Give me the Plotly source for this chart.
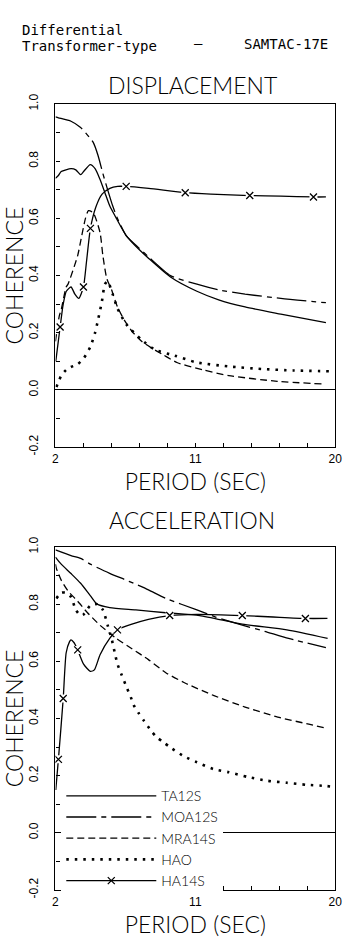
import plotly.graph_objects as go

W, H = 350, 946

# ---------------- DATA ----------------
x_tick_values = [2.0, 3.8, 5.6, 7.4, 9.2, 11.0, 12.8, 14.6, 16.4, 18.2, 20.0]
x_tick_labels = ["2", "", "", "", "", "11", "", "", "", "", "20"]
y_tick_values = [-0.2, -0.1, 0.0, 0.1, 0.2, 0.3, 0.4, 0.5, 0.6, 0.7, 0.8, 0.9, 1.0]
y_tick_labels = ["-0.2", "", "0.0", "", "0.2", "", "0.4", "", "0.6", "", "0.8", "", "1.0"]

series_names = ["TA12S", "MOA12S", "MRA14S", "HAO", "HA14S"]

# DISPLACEMENT
disp_ta12s_period = [2.0, 2.19, 2.37, 3.0, 3.31, 3.62, 3.81, 4.24, 4.55, 4.87, 5.18, 5.49, 5.92, 6.55, 7.4, 8.0, 9.4, 11.1, 12.5, 14.2, 16.5, 19.4]
disp_ta12s_coh = [0.74, 0.75, 0.764, 0.774, 0.77, 0.753, 0.764, 0.788, 0.774, 0.736, 0.69, 0.644, 0.60, 0.54, 0.49, 0.46, 0.395, 0.345, 0.315, 0.29, 0.265, 0.235]

disp_moa12s_period = [2.0, 2.19, 3.0, 3.62, 4.24, 4.43, 4.74, 5.05, 5.36, 5.68, 5.99, 6.55, 7.4, 8.0, 9.4, 11.1, 12.5, 14.2, 16.5, 19.4]
disp_moa12s_coh = [0.955, 0.952, 0.94, 0.918, 0.88, 0.866, 0.82, 0.757, 0.70, 0.644, 0.60, 0.54, 0.495, 0.465, 0.40, 0.37, 0.35, 0.335, 0.32, 0.305]

disp_mra14s_period = [2.0, 2.25, 2.37, 2.69, 2.81, 3.43, 3.62, 3.93, 4.12, 4.43, 4.87, 5.05, 5.30, 5.61, 5.99, 6.42, 6.92, 7.54, 8.17, 8.92, 9.85, 11.5, 13.15, 16.27, 19.38]
disp_mra14s_coh = [0.17, 0.26, 0.28, 0.36, 0.37, 0.47, 0.52, 0.60, 0.627, 0.62, 0.55, 0.47, 0.39, 0.35, 0.29, 0.245, 0.205, 0.17, 0.147, 0.123, 0.095, 0.07, 0.05, 0.03, 0.02]

disp_hao_period = [2.06, 2.19, 2.37, 2.69, 3.0, 3.43, 3.81, 4.24, 4.55, 4.74, 4.99, 5.18, 5.36, 5.68, 5.99, 6.55, 7.54, 8.42, 9.66, 11.1, 13.15, 15.27, 17.3, 19.7]
disp_hao_coh = [0.01, 0.027, 0.05, 0.07, 0.08, 0.09, 0.11, 0.15, 0.2, 0.245, 0.31, 0.37, 0.38, 0.335, 0.285, 0.23, 0.175, 0.14, 0.12, 0.096, 0.082, 0.073, 0.068, 0.065]

disp_ha14s_period = [2.02, 2.3, 2.5, 2.7, 3.0, 3.25, 3.5, 3.8, 4.0, 4.25, 4.6, 5.0, 5.5, 6.0, 6.55, 8.0, 10.35, 12.0, 14.5, 16.5, 18.6, 19.4]
disp_ha14s_coh = [0.10, 0.22, 0.30, 0.345, 0.36, 0.335, 0.32, 0.36, 0.45, 0.565, 0.64, 0.685, 0.705, 0.712, 0.712, 0.705, 0.69, 0.685, 0.68, 0.678, 0.675, 0.675]
disp_ha14s_mark_period = [2.3, 3.8, 4.25, 6.55, 10.35, 14.5, 18.6]
disp_ha14s_mark_coh = [0.22, 0.36, 0.565, 0.712, 0.69, 0.68, 0.675]

# ACCELERATION
acc_ta12s_period = [2.0, 2.06, 2.37, 3.0, 3.62, 4.24, 4.68, 5.49, 7.17, 9.10, 11.28, 14.02, 16.89, 19.51]
acc_ta12s_coh = [0.965, 0.96, 0.94, 0.907, 0.873, 0.83, 0.80, 0.788, 0.78, 0.77, 0.76, 0.73, 0.71, 0.68]

acc_moa12s_period = [2.0, 3.0, 3.62, 4.24, 5.49, 6.73, 7.98, 9.10, 11.1, 12.3, 13.8, 15.45, 17.0, 19.4]
acc_moa12s_coh = [0.99, 0.97, 0.96, 0.94, 0.908, 0.88, 0.85, 0.82, 0.78, 0.755, 0.73, 0.705, 0.68, 0.648]

acc_mra14s_period = [2.0, 2.06, 2.37, 2.81, 3.43, 4.06, 4.87, 5.92, 6.92, 7.98, 9.10, 10.3, 12.2, 14.2, 16.3, 18.3, 19.4]
acc_mra14s_coh = [0.94, 0.925, 0.884, 0.846, 0.81, 0.77, 0.726, 0.68, 0.644, 0.606, 0.56, 0.525, 0.48, 0.44, 0.405, 0.38, 0.366]

acc_hao_period = [2.06, 2.37, 2.69, 3.0, 3.31, 3.62, 3.81, 4.24, 4.68, 5.05, 5.36, 5.61, 5.80, 5.99, 6.24, 6.61, 6.86, 7.05, 7.36, 7.67, 8.11, 8.48, 8.92, 9.41, 10.29, 11.10, 12.16, 13.15, 14.40, 15.64, 16.89, 18.14, 19.38, 20.0]
acc_hao_coh = [0.82, 0.84, 0.84, 0.825, 0.78, 0.76, 0.764, 0.795, 0.80, 0.78, 0.726, 0.68, 0.634, 0.59, 0.555, 0.505, 0.473, 0.445, 0.418, 0.394, 0.36, 0.336, 0.318, 0.298, 0.267, 0.247, 0.223, 0.212, 0.195, 0.182, 0.175, 0.168, 0.164, 0.16]

acc_ha14s_period = [2.02, 2.19, 2.5, 2.69, 2.9, 3.0, 3.2, 3.43, 3.81, 4.24, 4.5, 4.87, 5.49, 5.99, 6.92, 7.98, 9.35, 11.1, 14.02, 16.0, 18.08, 19.5]
acc_ha14s_coh = [0.15, 0.257, 0.47, 0.63, 0.668, 0.675, 0.665, 0.64, 0.59, 0.565, 0.57, 0.623, 0.68, 0.71, 0.73, 0.747, 0.76, 0.764, 0.76, 0.755, 0.75, 0.75]
acc_ha14s_mark_period = [2.19, 2.5, 3.43, 5.99, 9.35, 14.02, 18.08]
acc_ha14s_mark_coh = [0.257, 0.47, 0.64, 0.71, 0.76, 0.76, 0.75]

# ---------------- STYLE ----------------
LW = 1.3
styles = {
    "TA12S": dict(color="black", width=LW, dash="solid"),
    "MOA12S": dict(color="black", width=LW, dash="30px,5px,5px,5px"),
    "MRA14S": dict(color="black", width=LW, dash="7px,4px"),
    "HAO": dict(color="black", width=2.6, dash="2.5px,6px"),
    "HA14S": dict(color="black", width=LW, dash="solid"),
}
TITLE_FONT = dict(family="Lato", size=23, color="black", weight=300)
TICK_FONT = dict(family="Liberation Sans", size=12, color="black")
HDR_FONT = dict(family="DejaVu Sans Mono", size=14, color="black")
LEG_FONT = dict(family="Lato", size=14, color="black", weight=300)


def px_x(p):
    return p / W


def px_y(p):
    return 1 - p / H


fig = go.Figure()

panels = [
    ("x", "y", [
        ("TA12S", disp_ta12s_period, disp_ta12s_coh),
        ("MOA12S", disp_moa12s_period, disp_moa12s_coh),
        ("MRA14S", disp_mra14s_period, disp_mra14s_coh),
        ("HAO", disp_hao_period, disp_hao_coh),
        ("HA14S", disp_ha14s_period, disp_ha14s_coh),
    ], (disp_ha14s_mark_period, disp_ha14s_mark_coh), False),
    ("x2", "y2", [
        ("TA12S", acc_ta12s_period, acc_ta12s_coh),
        ("MOA12S", acc_moa12s_period, acc_moa12s_coh),
        ("MRA14S", acc_mra14s_period, acc_mra14s_coh),
        ("HAO", acc_hao_period, acc_hao_coh),
        ("HA14S", acc_ha14s_period, acc_ha14s_coh),
    ], (acc_ha14s_mark_period, acc_ha14s_mark_coh), True),
]

for xa, ya, curves, marks, legend_panel in panels:
    for name, per, coh in curves:
        fig.add_trace(go.Scatter(
            x=per, y=coh, mode="lines", name=name,
            line=dict(**styles[name], shape="spline", smoothing=0.6),
            xaxis=xa, yaxis=ya,
            showlegend=legend_panel and name != "HA14S",
            legendrank=series_names.index(name) + 1,
        ))
    fig.add_trace(go.Scatter(
        x=marks[0], y=marks[1], mode="markers", name="HA14S",
        marker=dict(symbol="square", size=8, color="white", line=dict(width=0)),
        xaxis=xa, yaxis=ya, showlegend=False, hoverinfo="skip",
    ))
    fig.add_trace(go.Scatter(
        x=marks[0], y=marks[1], mode="markers", name="HA14S",
        marker=dict(symbol="x-thin", size=7, color="black", line=dict(width=1.3, color="black")),
        xaxis=xa, yaxis=ya, showlegend=False,
    ))

# legend entry for HA14S (line with x marker)
fig.add_trace(go.Scatter(
    x=[None], y=[None], mode="lines+markers", name="HA14S",
    line=styles["HA14S"],
    marker=dict(symbol="x-thin", size=7, color="black", line=dict(width=1.3, color="black")),
    xaxis="x2", yaxis="y2", showlegend=True, legendrank=5,
))

x_dom = [px_x(54), px_x(342)]


def xaxis(dom_y_anchor):
    return dict(
        domain=x_dom, range=[2, 20], anchor=dom_y_anchor,
        tickmode="array", tickvals=x_tick_values, ticktext=x_tick_labels,
        ticks="inside", ticklen=4, tickwidth=1, tickcolor="black",
        showline=True, linecolor="black", linewidth=1.3, mirror=True,
        showgrid=False, zeroline=False, tickfont=TICK_FONT, tickangle=0,
        title=dict(text="PERIOD (SEC)", font=TITLE_FONT, standoff=9),
        fixedrange=True,
    )


def yaxis(dom, anchor):
    return dict(
        domain=dom, range=[-0.2, 1.0], anchor=anchor,
        tickmode="array", tickvals=y_tick_values, ticktext=y_tick_labels,
        ticks="inside", ticklen=4, tickwidth=1, tickcolor="black",
        showline=True, linecolor="black", linewidth=1.3, mirror=True,
        showgrid=False, zeroline=True, zerolinecolor="black", zerolinewidth=1.3,
        tickfont=TICK_FONT, tickangle=-90, ticklabelstandoff=12,
        title=dict(text="COHERENCE", font=TITLE_FONT, standoff=2),
        fixedrange=True,
    )


fig.update_layout(
    width=W, height=H,
    margin=dict(l=0, r=0, t=0, b=0),
    paper_bgcolor="white", plot_bgcolor="white",
    xaxis=xaxis("y"),
    yaxis=yaxis([px_y(446), px_y(96)], "x"),
    xaxis2=xaxis("y2"),
    yaxis2=yaxis([px_y(898), px_y(548)], "x2"),
    showlegend=True,
    legend=dict(
        x=px_x(60), y=px_y(786), xanchor="left", yanchor="top",
        bgcolor="white", borderwidth=0, itemwidth=90,
        font=LEG_FONT, tracegroupgap=0, traceorder="normal",
    ),
    annotations=[
        dict(text="Differential", x=px_x(17), y=px_y(20), xref="paper", yref="paper",
             xanchor="left", yanchor="middle", showarrow=False, font=HDR_FONT),
        dict(text="Transformer-type", x=px_x(17), y=px_y(37), xref="paper", yref="paper",
             xanchor="left", yanchor="middle", showarrow=False, font=HDR_FONT),
        dict(text="\u2013", x=px_x(201), y=px_y(34), xref="paper", yref="paper",
             xanchor="center", yanchor="middle", showarrow=False, font=HDR_FONT),
        dict(text="SAMTAC-17E", x=px_x(246), y=px_y(35), xref="paper", yref="paper",
             xanchor="left", yanchor="middle", showarrow=False, font=HDR_FONT),
        dict(text="DISPLACEMENT", x=px_x(195), y=px_y(77), xref="paper", yref="paper",
             xanchor="center", yanchor="middle", showarrow=False, font=TITLE_FONT),
        dict(text="ACCELERATION", x=px_x(195), y=px_y(520), xref="paper", yref="paper",
             xanchor="center", yanchor="middle", showarrow=False, font=TITLE_FONT),
    ],
)

fig.write_html("out.html")
